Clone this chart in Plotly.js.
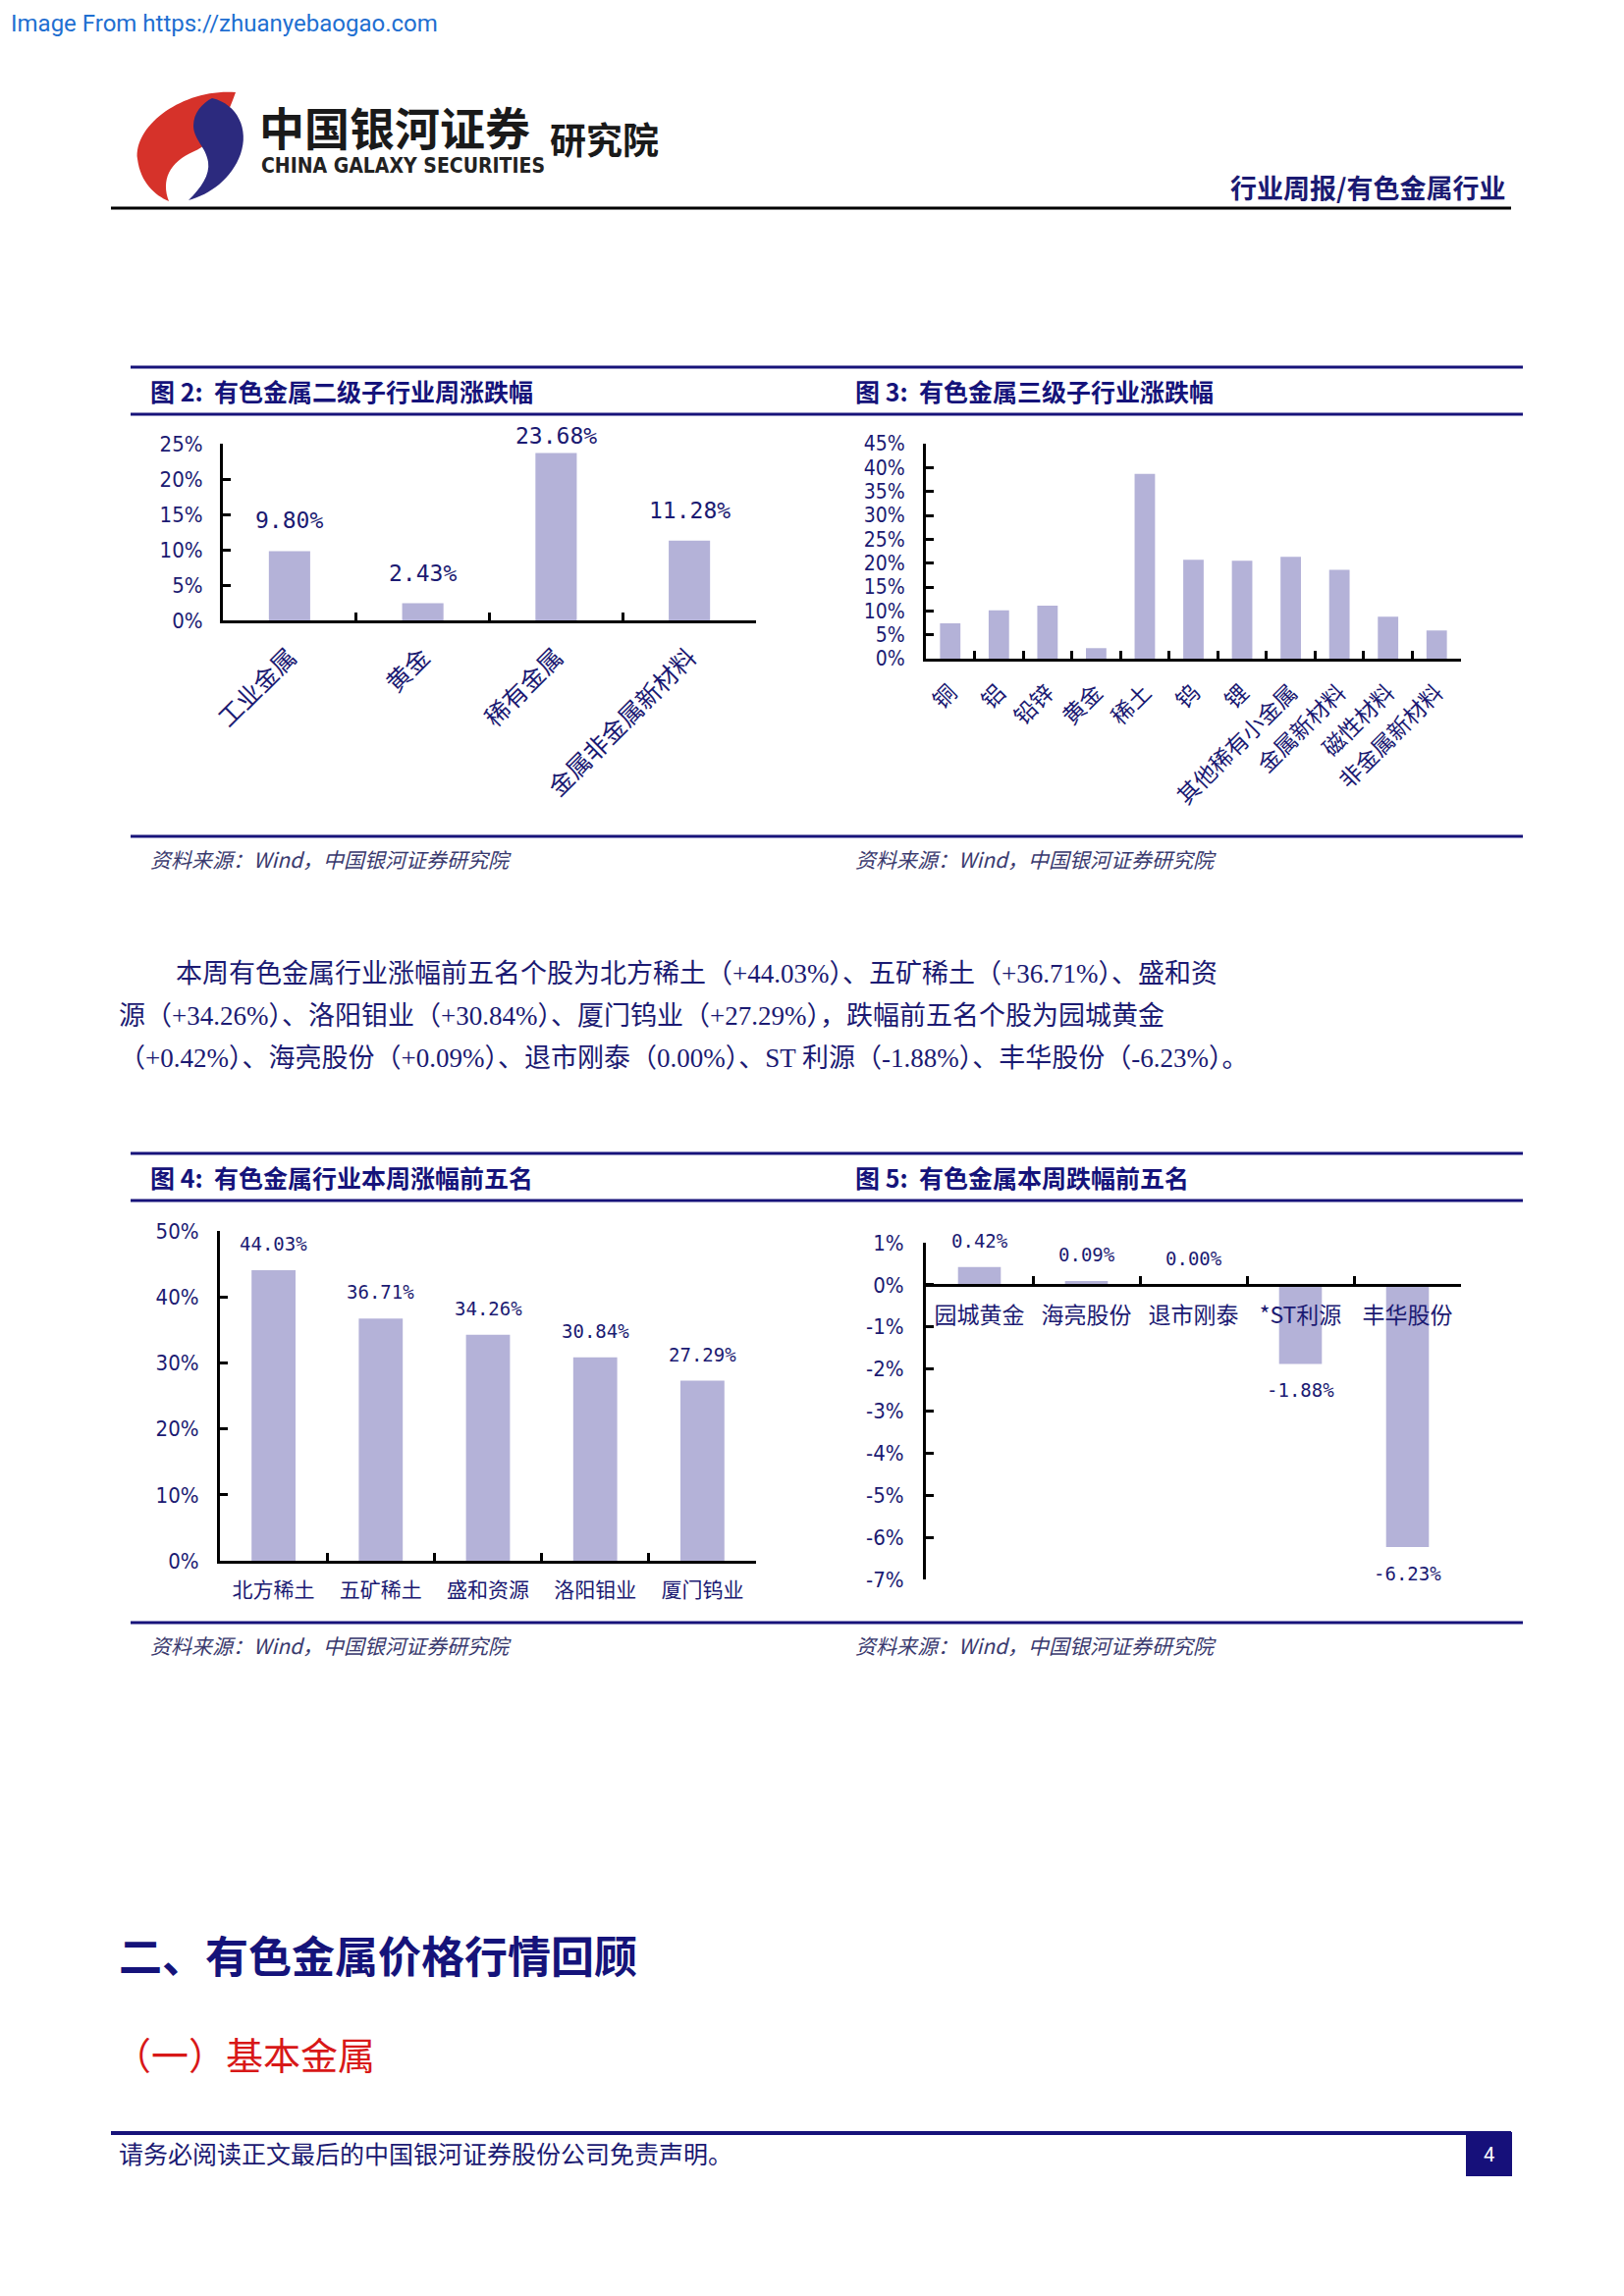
<!DOCTYPE html>
<html><head><meta charset="utf-8">
<script src="https://cdn.plot.ly/plotly-3.0.1.min.js"></script>
<style>html,body{margin:0;padding:0;background:#fff;}#chart{width:1654px;height:2339px;}</style>
</head><body><div id="chart"></div>
<script>
// ---------- data ----------
const fig2Categories = ['工业金属', '黄金', '稀有金属', '金属非金属新材料'];
const fig2Values = [9.80, 2.43, 23.68, 11.28];
const fig2Ticks = [0, 5, 10, 15, 20, 25];

const fig3Categories = ['铜', '铝', '铅锌', '黄金', '稀土', '钨', '锂', '其他稀有小金属', '金属新材料', '磁性材料', '非金属新材料'];
const fig3Values = [7.4, 10.1, 11.1, 2.2, 38.7, 20.7, 20.5, 21.3, 18.6, 8.8, 5.9];
const fig3Ticks = [0, 5, 10, 15, 20, 25, 30, 35, 40, 45];

const fig4Categories = ['北方稀土', '五矿稀土', '盛和资源', '洛阳钼业', '厦门钨业'];
const fig4Values = [44.03, 36.71, 34.26, 30.84, 27.29];
const fig4Ticks = [0, 10, 20, 30, 40, 50];

const fig5Categories = ['园城黄金', '海亮股份', '退市刚泰', '*ST利源', '丰华股份'];
const fig5Values = [0.42, 0.09, 0.00, -1.88, -6.23];
const fig5Ticks = [1, 0, -1, -2, -3, -4, -5, -6, -7];

const fig2Title = '图 2:  有色金属二级子行业周涨跌幅';
const fig3Title = '图 3:  有色金属三级子行业涨跌幅';
const fig4Title = '图 4:  有色金属行业本周涨幅前五名';
const fig5Title = '图 5:  有色金属本周跌幅前五名';
const sourceText = '资料来源：Wind，中国银河证券研究院';
const bodyLines = [
  '本周有色金属行业涨幅前五名个股为北方稀土（+44.03%）、五矿稀土（+36.71%）、盛和资',
  '源（+34.26%）、洛阳钼业（+30.84%）、厦门钨业（+27.29%），跌幅前五名个股为园城黄金',
  '（+0.42%）、海亮股份（+0.09%）、退市刚泰（0.00%）、ST 利源（-1.88%）、丰华股份（-6.23%）。'
];

// ---------- page geometry ----------
const W = 1654, H = 2339;
const fx = p => p / W;
const fy = p => 1 - p / H;
const NAVY = '#1b1a72';
const RULE = '#17137a';
const BAR = '#b4b2d8';
const CJK = '"Noto Sans CJK SC", sans-serif';
const NUM = '"Liberation Sans Narrow", "DejaVu Sans Condensed", sans-serif';
const MONO = '"DejaVu Sans Mono", monospace';
const BODY = '"Liberation Serif", "Noto Sans CJK SC", serif';

const pct = v => v.toFixed(2) + '%';

const axBase = {
  showgrid: false, zeroline: false, showline: true, linecolor: '#000', linewidth: 3,
  ticks: 'inside', ticklen: 8, tickwidth: 3, tickcolor: '#000', fixedrange: true
};
function yAx(dom, range, ticks, size, anchor, standoff) {
  return Object.assign({}, axBase, {
    domain: [fy(dom[1]), fy(dom[0])], range: range, autorange: false, anchor: anchor,
    tickvals: ticks, ticktext: ticks.map(t => t + '%'),
    tickfont: {family: NUM, size: size, color: NAVY}, ticklabelstandoff: standoff
  });
}
function xAx(dom, cats, anchor, extra) {
  return Object.assign({}, axBase, {
    domain: [fx(dom[0]), fx(dom[1])], type: 'category', tickson: 'boundaries',
    range: [-0.5, cats.length - 0.5], autorange: false, anchor: anchor
  }, extra);
}

// subplot pixel boxes [left, right] and [top, bottom]
const b2 = {x: [227, 770], y: [452, 632]};
const b3 = {x: [943, 1488], y: [452, 671]};
const b4 = {x: [224, 770], y: [1254, 1590]};
const b5 = {x: [943, 1488], y: [1266, 1609]};

const traces = [
  {type: 'bar', x: fig2Categories, y: fig2Values, xaxis: 'x', yaxis: 'y', width: 0.31, marker: {color: BAR}, hoverinfo: 'none'},
  {type: 'bar', x: fig3Categories, y: fig3Values, xaxis: 'x2', yaxis: 'y2', width: 0.42, marker: {color: BAR}, hoverinfo: 'none'},
  {type: 'bar', x: fig4Categories, y: fig4Values, xaxis: 'x3', yaxis: 'y3', width: 0.41, marker: {color: BAR}, hoverinfo: 'none'},
  {type: 'bar', x: fig5Categories, y: fig5Values, xaxis: 'x4', yaxis: 'y4', width: 0.40, marker: {color: BAR}, hoverinfo: 'none'}
];

const y5dom = [fy(b5.y[1]), fy(b5.y[0])];
const zeroPos = y5dom[0] + (0 - (-7)) / (1 - (-7)) * (y5dom[1] - y5dom[0]);

const layout = {
  width: W, height: H, margin: {l: 0, r: 0, t: 0, b: 0},
  paper_bgcolor: '#fff', plot_bgcolor: 'rgba(0,0,0,0)', showlegend: false,
  font: {family: CJK, color: NAVY},
  xaxis: xAx(b2.x, fig2Categories, 'y', {tickangle: -45, tickfont: {family: CJK, size: 25, color: NAVY}, ticklabelstandoff: 10}),
  yaxis: yAx(b2.y, [0, 25], fig2Ticks, 22, 'x', 13),
  xaxis2: xAx(b3.x, fig3Categories, 'y2', {tickangle: -45, tickfont: {family: CJK, size: 23, color: NAVY}, ticklabelstandoff: 9}),
  yaxis2: yAx(b3.y, [0, 45], fig3Ticks, 21, 'x2', 14),
  xaxis3: xAx(b4.x, fig4Categories, 'y3', {tickangle: 0, tickfont: {family: CJK, size: 21, color: NAVY}, ticklabelstandoff: 9}),
  yaxis3: yAx(b4.y, [0, 50], fig4Ticks, 22, 'x3', 14),
  xaxis4: xAx(b5.x, fig5Categories, 'free', {position: zeroPos, tickangle: 0, tickfont: {family: CJK, size: 23, color: NAVY}, ticklabelstandoff: 10}),
  yaxis4: yAx(b5.y, [-7, 1], fig5Ticks, 22, 'x4', 15),
  // invisible full-page pixel axes for decorations
  xaxis5: {domain: [0, 1], range: [0, W], autorange: false, visible: false, fixedrange: true, anchor: 'y5'},
  yaxis5: {domain: [0, 1], range: [H, 0], autorange: false, visible: false, fixedrange: true, anchor: 'x5'},
  shapes: [],
  annotations: []
};

const S = layout.shapes, A = layout.annotations;
function line(x0, y0, x1, y1, color, w) {
  S.push({type: 'line', xref: 'x5', yref: 'y5', x0: x0, y0: y0, x1: x1, y1: y1, line: {color: color, width: w}, layer: 'above'});
}
function text(x, y, t, size, color, opts) {
  A.push(Object.assign({xref: 'x5', yref: 'y5', x: x, y: y, text: t, showarrow: false,
    xanchor: 'left', yanchor: 'middle', font: {family: CJK, size: size, color: color}}, opts || {}));
}

// header
text(9, 24, 'Image From https://zhuanyebaogao.com', 24, '#1f6fd1', {font: {family: 'Roboto, sans-serif', size: 24, color: '#1f6fd1'}});
// logo swirl
S.push({type: 'path', xref: 'x5', yref: 'y5', layer: 'above', fillcolor: '#d6322a', line: {width: 0},
  path: 'M 240 94 C 186 90 136 128 140 162 C 143 186 158 199 172 205 C 164 184 172 165 198 154 C 216 146 228 128 240 94 Z'});
S.push({type: 'path', xref: 'x5', yref: 'y5', layer: 'above', fillcolor: '#2c2a7e', line: {width: 0},
  path: 'M 216 100 C 242 106 254 132 245 157 C 236 182 214 198 192 204 C 205 191 214 178 212 165 C 210 150 197 142 197 128 C 197 115 206 105 216 100 Z'});
text(262, 128, '<b>中国银河证券</b>', 46, '#1a1a1a', {font: {family: CJK, size: 46, color: '#1a1a1a'}});
text(264, 169, '<b>CHINA GALAXY SECURITIES</b>', 20, '#222', {font: {family: NUM, size: 21, color: '#222'}});
text(558, 141, '<b>研究院</b>', 37, '#1a1a1a', {font: {family: CJK, size: 37, color: '#1a1a1a'}});
text(1535, 190, '<b>行业周报/有色金属行业</b>', 27, NAVY, {xanchor: 'right'});
line(113, 212, 1539, 212, '#000', 3);

// figure frames
function frame(top, titleY, under, bottom, srcY, tL, tR) {
  line(133, top, 1551, top, RULE, 3);
  line(133, under, 1551, under, RULE, 3);
  line(133, bottom, 1551, bottom, RULE, 3);
  text(151, titleY, '<b>' + tL + '</b>', 25, '#15137a');
  text(869, titleY, '<b>' + tR + '</b>', 25, '#15137a');
  text(151, srcY, '<i>' + sourceText + '</i>', 21, '#3a3a6e');
  text(869, srcY, '<i>' + sourceText + '</i>', 21, '#3a3a6e');
}
frame(374, 398, 422, 852, 875, fig2Title, fig3Title);
frame(1175, 1199, 1223, 1653, 1676, fig4Title, fig5Title);

// data labels
function dataLabels(cats, vals, xr, yr, box, range, gap, size, clampTop) {
  const ppu = (box.y[1] - box.y[0]) / (range[1] - range[0]);
  vals.forEach((v, i) => {
    let shift = v >= 0 ? gap : -gap;
    if (clampTop !== undefined && v >= 0) {
      const topPx = box.y[1] - (v - range[0]) * ppu;
      const c = Math.max(topPx - gap, clampTop);
      shift = topPx - c;
    }
    A.push({xref: xr, yref: yr, x: i, y: v, yshift: shift, text: pct(v), showarrow: false,
      xanchor: 'center', yanchor: 'middle', font: {family: MONO, size: size, color: NAVY}});
  });
}
dataLabels(fig2Categories, fig2Values, 'x', 'y', b2, [0, 25], 31, 23, 444);
dataLabels(fig4Categories, fig4Values, 'x3', 'y3', b4, [0, 50], 27, 19);
dataLabels(fig5Categories, fig5Values, 'x4', 'y4', b5, [-7, 1], 27, 19);

// body paragraph
const bodyFont = {family: BODY, size: 27, color: NAVY};
text(177, 992, bodyLines[0], 27, NAVY, {font: bodyFont});
text(119, 1035, bodyLines[1], 27, NAVY, {font: bodyFont});
text(119, 1078, bodyLines[2], 27, NAVY, {font: bodyFont});

// headings
text(119, 1991, '<b>二、有色金属价格行情回顾</b>', 44, '#15137a');
text(114, 2091, '（一）基本金属', 38, '#d81818');

// footer
line(113, 2173, 1539, 2173, RULE, 4);
text(119, 2193, '请务必阅读正文最后的中国银河证券股份公司免责声明。', 25, NAVY);
S.push({type: 'rect', xref: 'x5', yref: 'y5', x0: 1493, x1: 1540, y0: 2172, y1: 2217, fillcolor: '#16107a', line: {width: 0}, layer: 'above'});
text(1516, 2195, '4', 20, '#fff', {xanchor: 'center', font: {family: 'Roboto, sans-serif', size: 20, color: '#fff'}});

Plotly.newPlot('chart', traces, layout, {staticPlot: true, displayModeBar: false});
</script>
</body></html>
